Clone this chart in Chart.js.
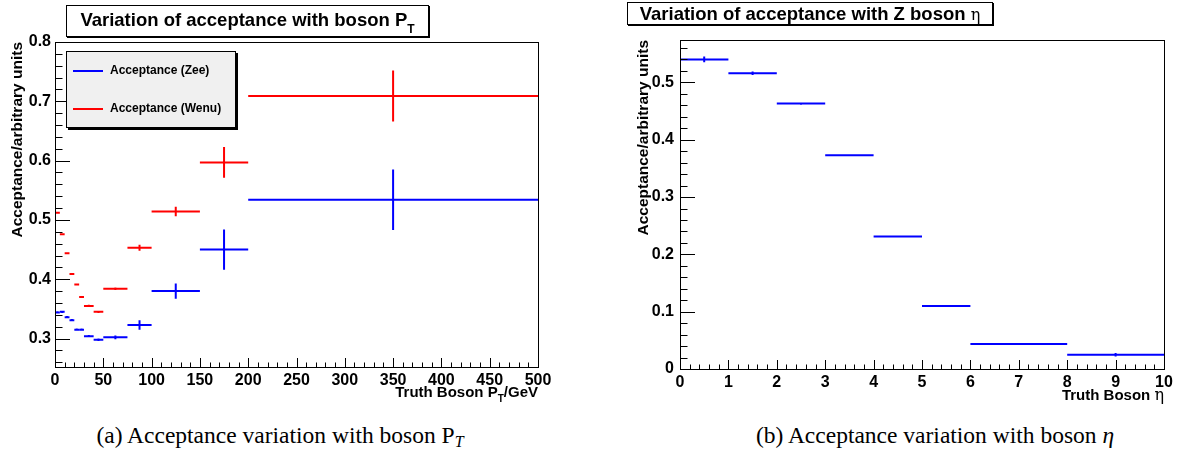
<!DOCTYPE html>
<html>
<head>
<meta charset="utf-8">
<script src="https://cdn.jsdelivr.net/npm/chart.js@4/dist/chart.umd.min.js"></script>
<style>
  body { margin: 0; background: #fff; }
  #wrap { position: relative; width: 1182px; height: 460px; overflow: hidden; font-family: "Liberation Sans", Arial, sans-serif; }
  canvas { position: absolute; top: 0; }
  .box { position: absolute; background: #fff; border: 1px solid #000; box-shadow: 1px 1px 0 #000;
         font-weight: bold; font-size: 18.5px; text-align: center; white-space: nowrap; box-sizing: border-box; }
  .box sub { font-size: 12px; vertical-align: -7px; }
  .axt { position: absolute; font-weight: bold; font-size: 15px; white-space: nowrap; text-align: right; }
  .axt sub { font-size: 10px; vertical-align: -5px; }
  .sym { font-weight: normal; font-family: "DejaVu Serif", serif; font-size: 16px; }
  #legend { position: absolute; left: 66px; top: 51px; width: 170px; height: 77px; background: #f0f0f0;
            border: 1px solid #000; box-shadow: 2px 2px 0 #000; box-sizing: border-box; }
  .lrow { position: absolute; left: 6px; height: 14px; font-size: 12px; font-weight: bold; white-space: nowrap; }
  .lrow span.ln { display: inline-block; width: 30px; height: 2px; vertical-align: middle; margin-right: 7px; }
  .cap { position: absolute; top: 422px; width: 500px; text-align: center; font-family: "Liberation Serif", "Times New Roman", serif; font-size: 23.5px; white-space: nowrap; }
  .cap sub { font-size: 16px; font-style: italic; vertical-align: -4px; }
</style>
</head>
<body>
<div id="wrap">
  <canvas id="ptChart" width="560" height="400" style="left:0"></canvas>
  <canvas id="etaChart" width="552" height="400" style="left:630px"></canvas>

  <div class="box" style="left:66px;top:5px;width:363px;height:32px;line-height:27px;">Variation of acceptance with boson P<sub>T</sub></div>
  <div class="box" style="left:627px;top:2px;width:366px;height:23px;line-height:21px;">Variation of acceptance with Z boson <span class="sym">η</span></div>

  <div id="legend"></div>

  <div class="axt" style="right:644px;top:383px;">Truth Boson P<sub>T</sub>/GeV</div>
  <div class="axt" style="right:18px;top:385px;">Truth Boson <span class="sym">η</span></div>

  <div class="cap" style="left:30px;">(a) Acceptance variation with boson P<sub>T</sub></div>
  <div class="cap" style="left:685px;">(b) Acceptance variation with boson <i>η</i></div>
</div>

<script>
// acceptance vs boson pT (bin edges in GeV)
const ptLow  = [0, 5, 10, 15, 20, 25, 30, 40, 50, 75, 100, 150, 200];
const ptHigh = [5, 10, 15, 20, 25, 30, 40, 50, 75, 100, 150, 200, 500];
const zeeAcc  = [0.344, 0.345, 0.336, 0.331, 0.315, 0.315, 0.304, 0.298, 0.302, 0.323, 0.380, 0.450, 0.534];
const zeeErr  = [0.002, 0.002, 0.002, 0.002, 0.002, 0.002, 0.002, 0.002, 0.003, 0.008, 0.013, 0.034, 0.051];
const wenuAcc = [0.512, 0.476, 0.444, 0.409, 0.391, 0.370, 0.355, 0.345, 0.384, 0.453, 0.514, 0.597, 0.709];
const wenuErr = [0.001, 0.001, 0.001, 0.001, 0.001, 0.001, 0.002, 0.002, 0.002, 0.005, 0.008, 0.026, 0.043];
const seriesNames = ["Acceptance (Zee)", "Acceptance (Wenu)"];
const seriesColors = ["#0000ff", "#ff0000"];
const ptTicks = [0, 50, 100, 150, 200, 250, 300, 350, 400, 450, 500];
const accTicksPt = [0.3, 0.4, 0.5, 0.6, 0.7, 0.8];

// acceptance vs Z boson eta
const etaLow  = [0, 1, 2, 3, 4, 5, 6, 8];
const etaHigh = [1, 2, 3, 4, 5, 6, 8, 10];
const etaAcc  = [0.540, 0.516, 0.463, 0.373, 0.231, 0.110, 0.0435, 0.025];
const etaErr  = [0.005, 0.003, 0.002, 0.001, 0.001, 0.001, 0.001, 0.003];
const etaTicks = [0, 1, 2, 3, 4, 5, 6, 7, 8, 9, 10];
const accTicksEta = [0, 0.1, 0.2, 0.3, 0.4, 0.5];

function binPoints(lo, hi, val, err) {
  return val.map((v, i) => ({ x: (lo[i] + hi[i]) / 2, y: v, xMin: lo[i], xMax: hi[i], yErr: err[i] }));
}

// horizontal bin width + vertical error for every point
const errorBars = {
  id: 'errorBars',
  afterDatasetsDraw(chart) {
    const { ctx, chartArea: a, scales: { x, y } } = chart;
    ctx.save();
    ctx.beginPath();
    ctx.rect(a.left, a.top, a.right - a.left, a.bottom - a.top);
    ctx.clip();
    ctx.lineWidth = 2;
    chart.data.datasets.forEach(ds => {
      ctx.strokeStyle = ds.borderColor;
      ds.data.forEach(p => {
        const yc = y.getPixelForValue(p.y);
        const xc = x.getPixelForValue(p.x);
        ctx.beginPath();
        ctx.moveTo(x.getPixelForValue(p.xMin), yc);
        ctx.lineTo(x.getPixelForValue(p.xMax), yc);
        ctx.moveTo(xc, y.getPixelForValue(p.y - p.yErr));
        ctx.lineTo(xc, y.getPixelForValue(p.y + p.yErr));
        ctx.stroke();
      });
    });
    ctx.restore();
  }
};

// ROOT-like frame with inside ticks
const rootFrame = {
  id: 'rootFrame',
  afterDraw(chart, args, o) {
    const { ctx, chartArea: a, scales: { x, y } } = chart;
    ctx.save();
    ctx.strokeStyle = '#000';
    ctx.lineWidth = 1;
    ctx.beginPath();
    for (let i = 0; ; i++) {
      const v = x.min + i * o.xMinor;
      if (v > x.max + 1e-9) break;
      const len = i % o.xDiv === 0 ? o.xLen : o.xLen / 2;
      const px = Math.round(x.getPixelForValue(v)) + 0.5;
      ctx.moveTo(px, a.bottom);
      ctx.lineTo(px, a.bottom - len);
    }
    const start = Math.ceil(y.min / o.yMinor - 1e-6);
    for (let k = start; ; k++) {
      const v = k * o.yMinor;
      if (v > y.max + 1e-9) break;
      const len = k % o.yDiv === 0 ? o.yLen : o.yLen / 2;
      const py = Math.round(y.getPixelForValue(v)) + 0.5;
      ctx.moveTo(a.left, py);
      ctx.lineTo(a.left + len, py);
    }
    ctx.stroke();
    ctx.strokeRect(Math.round(a.left) + 0.5, Math.round(a.top) + 0.5,
                   Math.round(a.right - a.left), Math.round(a.bottom - a.top));
    ctx.restore();
  }
};

const tickFont = { family: "'Liberation Sans', Arial, sans-serif", size: 16, weight: 'bold' };

function makeOptions(cfg) {
  return {
    responsive: false,
    devicePixelRatio: 1,
    animation: false,
    events: [],
    layout: { padding: cfg.padding },
    plugins: {
      legend: { display: false },
      tooltip: { enabled: false },
      rootFrame: cfg.frame
    },
    scales: {
      x: {
        type: 'linear',
        min: cfg.xMin, max: cfg.xMax,
        afterBuildTicks: s => { s.ticks = cfg.xTicks.map(v => ({ value: v })); },
        afterFit: s => { s.height = cfg.xHeight; },
        grid: { display: false, drawTicks: false },
        border: { display: false },
        ticks: { color: '#000', font: tickFont, padding: 4, maxRotation: 0, autoSkip: false,
                 callback: v => String(v) }
      },
      y: {
        type: 'linear',
        min: cfg.yMin, max: cfg.yMax,
        afterBuildTicks: s => { s.ticks = cfg.yTicks.map(v => ({ value: v })); },
        afterFit: s => { s.width = cfg.yWidth; },
        grid: { display: false, drawTicks: false },
        border: { display: false },
        ticks: { color: '#000', font: tickFont, padding: cfg.yPad, autoSkip: false,
                 callback: v => v === 0 ? '0' : v.toFixed(1) },
        title: { display: true, text: 'Acceptance/arbitrary units', align: 'end', color: '#000',
                 font: { family: "'Liberation Sans', Arial, sans-serif", size: 15.5, weight: 'bold' },
                 padding: { top: cfg.titlePad, bottom: 0 } }
      }
    }
  };
}

new Chart(document.getElementById('ptChart'), {
  type: 'scatter',
  data: {
    datasets: [
      { label: seriesNames[0], data: binPoints(ptLow, ptHigh, zeeAcc, zeeErr),
        borderColor: seriesColors[0], backgroundColor: seriesColors[0], pointRadius: 0, showLine: false },
      { label: seriesNames[1], data: binPoints(ptLow, ptHigh, wenuAcc, wenuErr),
        borderColor: seriesColors[1], backgroundColor: seriesColors[1], pointRadius: 0, showLine: false }
    ]
  },
  options: makeOptions({
    padding: { top: 42, right: 22, left: 0, bottom: 0 },
    xMin: 0, xMax: 500, yMin: 0.252, yMax: 0.8,
    xTicks: ptTicks, yTicks: accTicksPt,
    xHeight: 33, yWidth: 55, yPad: 4, titlePad: 8,
    frame: { xMinor: 10, xDiv: 5, xLen: 9, yMinor: 0.02, yDiv: 5, yLen: 15 }
  }),
  plugins: [errorBars, rootFrame]
});

new Chart(document.getElementById('etaChart'), {
  type: 'scatter',
  data: {
    datasets: [
      { label: 'Acceptance', data: binPoints(etaLow, etaHigh, etaAcc, etaErr),
        borderColor: seriesColors[0], backgroundColor: seriesColors[0], pointRadius: 0, showLine: false }
    ]
  },
  options: makeOptions({
    padding: { top: 40, right: 18, left: 0, bottom: 0 },
    xMin: 0, xMax: 10, yMin: 0, yMax: 0.574,
    xTicks: etaTicks, yTicks: accTicksEta,
    xHeight: 31, yWidth: 50, yPad: 6, titlePad: 4,
    frame: { xMinor: 0.2, xDiv: 5, xLen: 9, yMinor: 0.02, yDiv: 5, yLen: 15 }
  }),
  plugins: [errorBars, rootFrame]
});

// legend box
const legend = document.getElementById('legend');
seriesNames.forEach((name, i) => {
  const row = document.createElement('div');
  row.className = 'lrow';
  row.style.top = (11 + i * 38) + 'px';
  row.innerHTML = '<span class="ln" style="background:' + seriesColors[i] + '"></span>' + name;
  legend.appendChild(row);
});
</script>
</body>
</html>
